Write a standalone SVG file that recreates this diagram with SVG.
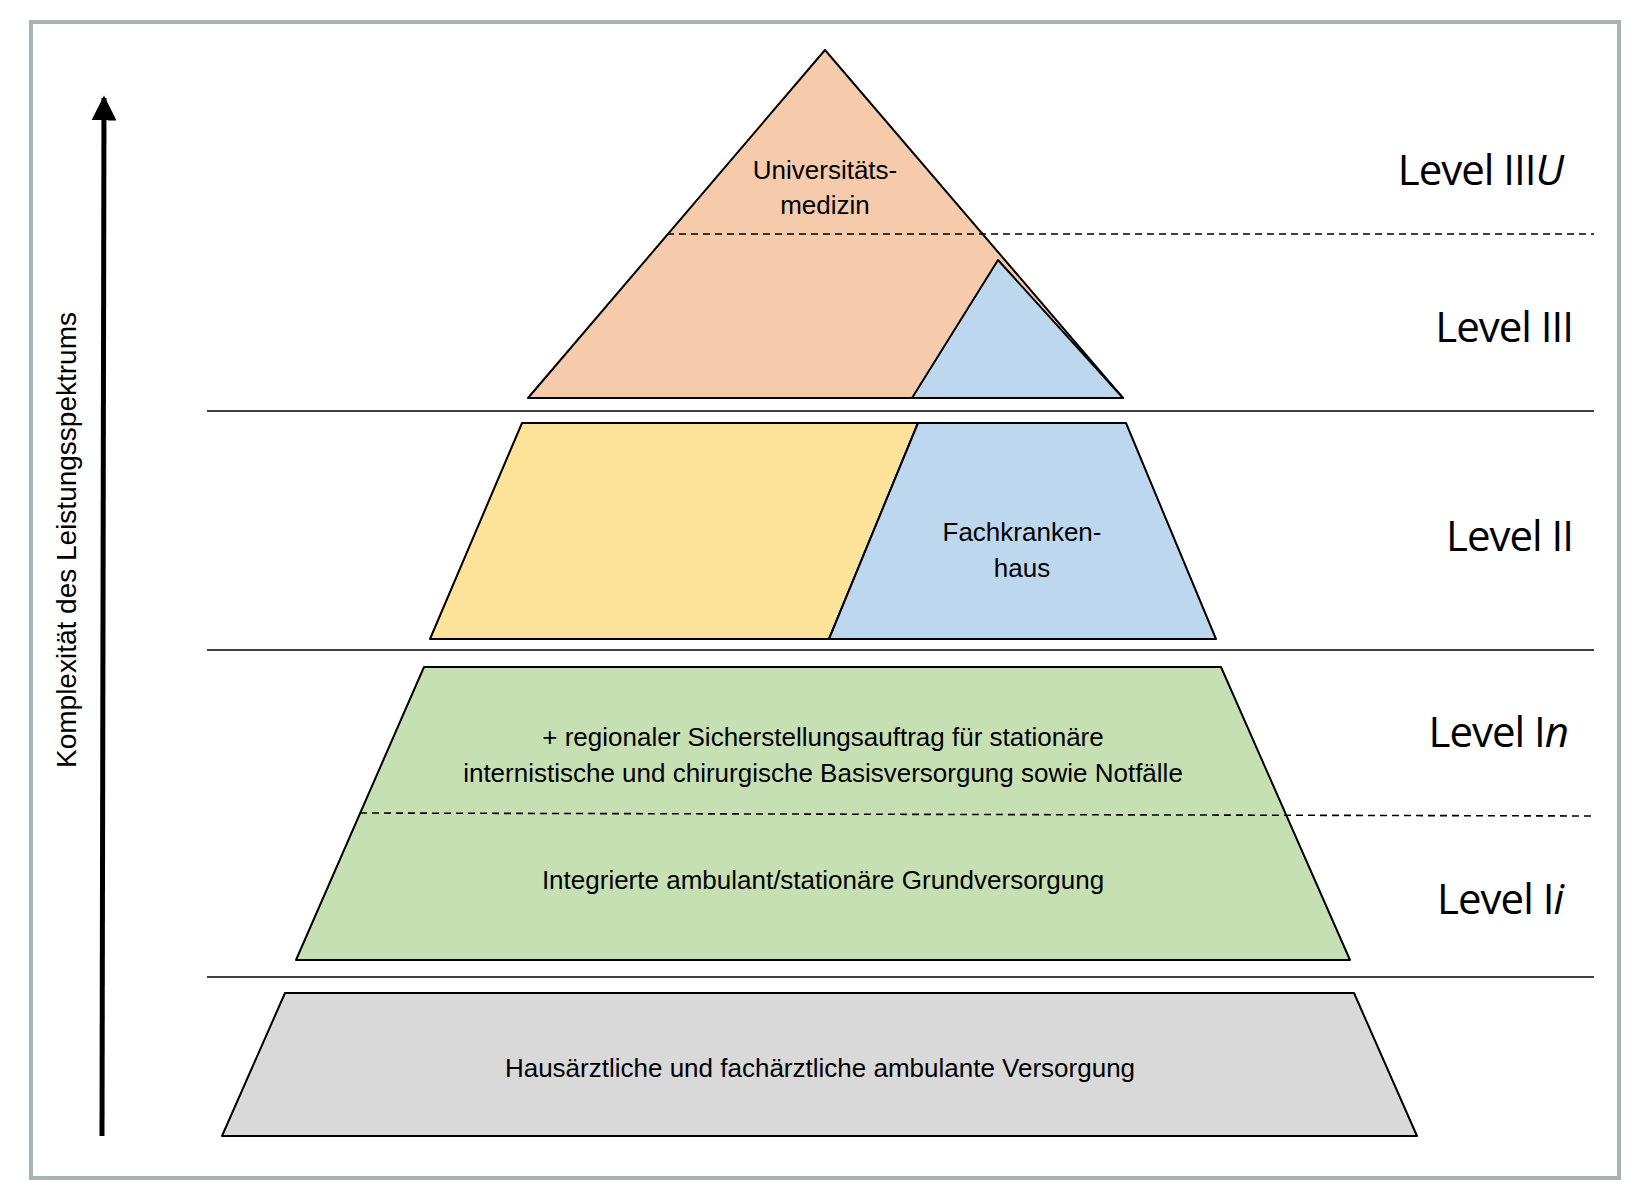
<svg xmlns="http://www.w3.org/2000/svg" width="1640" height="1204" viewBox="0 0 1640 1204">
<defs>
<style>
.s{stroke:#000;stroke-width:2;stroke-linejoin:round}
.t{font-family:"Liberation Sans",Arial,sans-serif;font-size:26px;fill:#000;text-anchor:middle;dominant-baseline:central}
.l{font-family:"Open Sans","Liberation Sans",sans-serif;font-size:42px;fill:#000;text-anchor:end;dominant-baseline:central;letter-spacing:-1px}
.h{stroke:#000;stroke-width:1.6}
.d{stroke:#000;stroke-width:1.6;stroke-dasharray:7 5}
</style>
<marker id="ah" viewBox="0 0 10 10" refX="9" refY="5" markerWidth="5" markerHeight="5" orient="auto"><path d="M0,0 L10,5 L0,10 z" fill="#000"/></marker>
</defs>
<rect x="31" y="22" width="1588" height="1156" fill="#fff" stroke="#a9b3b3" stroke-width="4"/>
<g id="connectors">
<line x1="102" y1="1136" x2="104" y2="98" stroke="#000" stroke-width="5" marker-end="url(#ah)"/>
<line class="h" x1="207" y1="411" x2="1594" y2="411"/>
<line class="h" x1="207" y1="650" x2="1594" y2="650"/>
<line class="h" x1="207" y1="977" x2="1594" y2="977"/>
</g>
<text class="t" transform="translate(66,540) rotate(-90)" style="font-size:28px">Komplexität des Leistungsspektrums</text>
<g id="uni">
<polygon class="s" points="825,50 1123,398 528,398" fill="#f6cbac"/>
<text class="t" x="825" y="170">Universitäts-</text>
<text class="t" x="825" y="205">medizin</text>
</g>
<g id="fach3"><polygon class="s" points="998,260 1123,398 912,398" fill="#bcd7ee"/></g>
<line class="d" x1="667" y1="234" x2="1594" y2="234"/>
<g id="yellow"><polygon class="s" points="522,423 918,423 829,639 430,639" fill="#fde39a"/></g>
<g id="fach2">
<polygon class="s" points="918,423 1126,423 1216,639 829,639" fill="#bcd7ee"/>
<text class="t" x="1022" y="532">Fachkranken-</text>
<text class="t" x="1022" y="568">haus</text>
</g>
<g id="green">
<polygon class="s" points="424,667 1221,667 1350,960 296,960" fill="#c6e0b4"/>
<text class="t" x="823" y="737">+ regionaler Sicherstellungsauftrag für stationäre</text>
<text class="t" x="823" y="773">internistische und chirurgische Basisversorgung sowie Notfälle</text>
<text class="t" x="823" y="880">Integrierte ambulant/stationäre Grundversorgung</text>
</g>
<line class="d" x1="360" y1="813" x2="1594" y2="816"/>
<g id="gray">
<polygon class="s" points="285,993 1354,993 1417,1136 222,1136" fill="#d9d9d9"/>
<text class="t" x="820" y="1068">Hausärztliche und fachärztliche ambulante Versorgung</text>
</g>
<g id="levels">
<text class="l" x="1563" y="168">Level III<tspan font-style="italic">U</tspan></text>
<text class="l" x="1573" y="325">Level III</text>
<text class="l" x="1573" y="534">Level II</text>
<text class="l" x="1568" y="730">Level I<tspan font-style="italic">n</tspan></text>
<text class="l" x="1563" y="897">Level I<tspan font-style="italic">i</tspan></text>
</g>
</svg>
